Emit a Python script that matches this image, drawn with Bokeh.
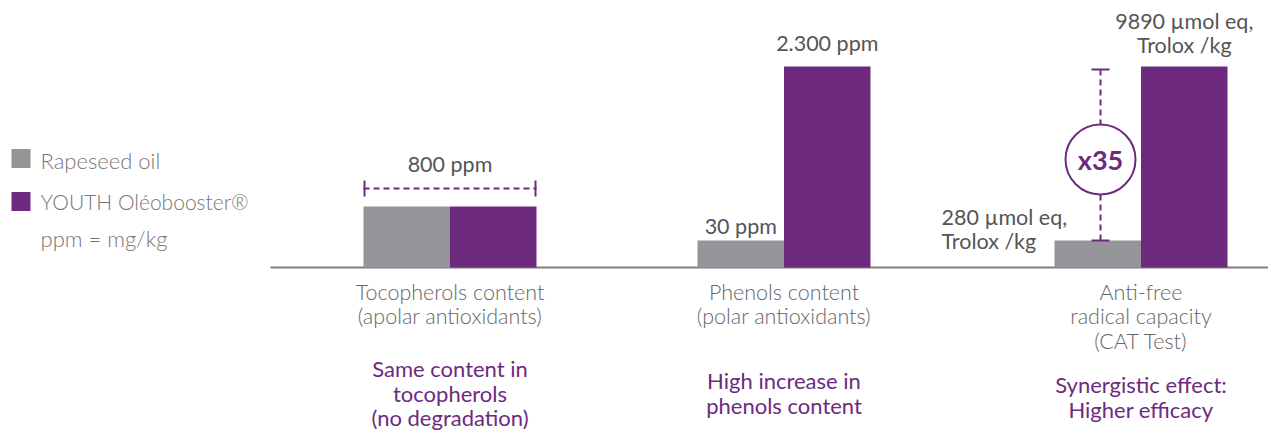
from bokeh.plotting import figure
from bokeh.models import Range1d
from bokeh.core.properties import value
from bokeh.embed import file_html
from bokeh.resources import INLINE

# ---- data ----
categories = ["Tocopherols content\n(apolar antioxidants)",
              "Phenols content\n(polar antioxidants)",
              "Anti-free\nradical capacity\n(CAT Test)"]
notes = ["Same content in\ntocopherols\n(no degradation)",
         "High increase in\nphenols content",
         "Synergistic effect:\nHigher efficacy"]
series = ["Rapeseed oil", "YOUTH Oléobooster®"]
# bar heights as drawn (schematic scale)
rapeseed_bar = [61, 27, 27]
youth_bar = [61, 201, 201]
rapeseed_labels = ["", "30 ppm", "280 µmol eq,\nTrolox /kg"]
youth_labels = ["", "2.300 ppm", "9890 µmol eq,\nTrolox /kg"]
shared_label = "800 ppm"
ratio_label = "x35"
unit_note = "ppm = mg/kg"

GRAY = "#939598"
PURPLE = "#6d2a7e"
FONT = value("Lato")
LIGHT = value("Lato Light")

centers = [449.5, 783.5, 1140.5]
bw = 86.5

p = figure(width=1268, height=431, output_backend="svg", toolbar_location=None,
           x_range=Range1d(0, 1268), y_range=Range1d(-164, 267), min_border=0)
p.axis.visible = False
p.grid.visible = False
p.outline_line_color = None
p.background_fill_color = "white"

def yy(ref):
    return 267 - ref

# baseline
p.segment(x0=[270], y0=[0], x1=[1268], y1=[0], line_color="#808080", line_width=2)

# bars
gx = [c - bw / 2 for c in centers]
px = [c + bw / 2 for c in centers]
p.vbar(x=gx, top=rapeseed_bar, bottom=0, width=bw, fill_color=GRAY, line_color=None)
p.vbar(x=px, top=youth_bar, bottom=0, width=bw, fill_color=PURPLE, line_color=None)

def txt(x, y, s, size="21.5px", color="#555555", align="center", style="normal", font=FONT):
    lines = s.split("\n")
    for i, ln in enumerate(lines):
        p.text(x=[x], y=[y - 24.5 * i], text=[ln], text_font=font, text_font_size=size,
               text_color=color, text_align=align, text_baseline="middle",
               text_font_style=style)

# value labels
txt(gx[1], rapeseed_bar[1] + 15, rapeseed_labels[1])
txt(px[1], youth_bar[1] + 24, youth_labels[1])
txt(px[2], youth_bar[2] + 46, youth_labels[2])
txt(941, yy(216), rapeseed_labels[2], align="left")
txt(centers[0], yy(163), shared_label)

# bracket group 1
by = yy(188)
p.segment(x0=[gx[0] - bw / 2], y0=[by], x1=[px[0] + bw / 2], y1=[by],
          line_color=PURPLE, line_width=2, line_dash="6 4")
p.segment(x0=[gx[0] - bw / 2 + 1, px[0] + bw / 2 - 1], y0=[by - 8, by - 8],
          x1=[gx[0] - bw / 2 + 1, px[0] + bw / 2 - 1], y1=[by + 8, by + 8],
          line_color=PURPLE, line_width=2)

# ratio marker group 3
vx = 1100
top_y = yy(69)
bot_y = rapeseed_bar[2]
cy = yy(159)
p.segment(x0=[vx, vx], y0=[top_y, cy - 35], x1=[vx, vx], y1=[cy + 35, bot_y],
          line_color=PURPLE, line_width=2, line_dash="6 4")
p.segment(x0=[vx - 9, vx - 9], y0=[top_y, bot_y], x1=[vx + 9, vx + 9], y1=[top_y, bot_y],
          line_color=PURPLE, line_width=2)
p.scatter(x=[vx], y=[cy], size=70, marker="circle", fill_color="white",
          line_color=PURPLE, line_width=2)
txt(vx, cy, ratio_label, size="27px", color=PURPLE, style="bold")

# category labels and notes
note_tops = [yy(368), yy(380), yy(384)]
for c, cat, note, nt in zip(centers, categories, notes, note_tops):
    txt(c, yy(291), cat, color="#666666", font=LIGHT)
    txt(c, nt, note, color=PURPLE, size="22px")

# legend
p.rect(x=[20.5, 20.5], y=[yy(158), yy(201)], width=19, height=19,
       fill_color=[GRAY, PURPLE], line_color=None)
txt(40, yy(160), series[0], align="left", size="22px", color="#777777", font=LIGHT)
txt(40, yy(201), series[1], align="left", size="21px", color="#777777", font=LIGHT)
txt(40, yy(238), unit_note, align="left", size="22px", color="#777777", font=LIGHT)

open("out.html", "w").write(file_html(p, INLINE))
